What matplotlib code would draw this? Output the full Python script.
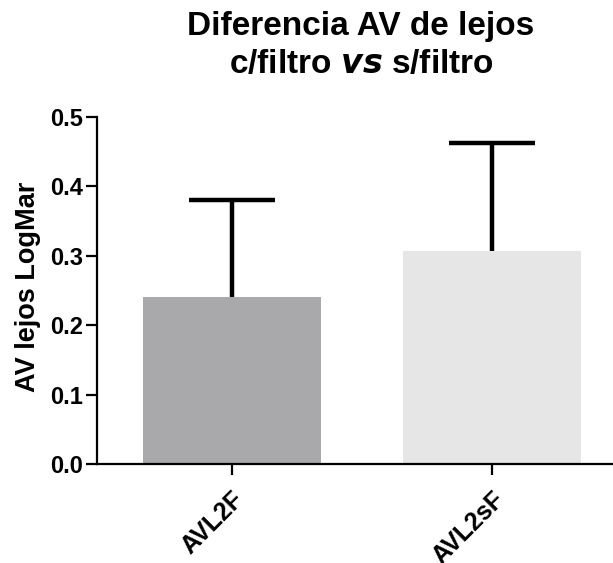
"""Bar chart: distance visual acuity (LogMAR) with vs without filter, mean + SD."""
import matplotlib

matplotlib.use("Agg")
import matplotlib.pyplot as plt

plt.rcParams["font.family"] = ["Liberation Sans", "DejaVu Sans"]
plt.rcParams["font.weight"] = "bold"

groups = ["AVL2F", "AVL2sF"]
means = [0.24, 0.307]
sds = [0.14, 0.155]
bar_colors = ["#a9a9ac", "#e6e6e6"]

fig = plt.figure(figsize=(6.13, 5.63), dpi=100)
ax = fig.add_axes([0.158, 0.176, 0.842, 0.616])

x = list(range(len(groups)))
ax.bar(x, means, width=0.685, color=bar_colors, zorder=2)

# upper-only SD whiskers with a cap
tops = [m + s for m, s in zip(means, sds)]
cap_half = 0.165
ax.vlines(x, means, tops, color="black", linewidth=3.2, zorder=3)
ax.hlines(tops, [xi - cap_half for xi in x], [xi + cap_half for xi in x],
          color="black", linewidth=3.2, zorder=3)

ax.set_xlim(-0.519, 1.465)
ax.set_ylim(0, 0.5)
ax.set_yticks([0.0, 0.1, 0.2, 0.3, 0.4, 0.5])
ax.set_yticklabels([f"{v:.1f}" for v in ax.get_yticks()], fontsize=17, fontweight="bold")
ax.set_xticks(x)
ax.set_xticklabels(groups, fontsize=18, fontweight="bold",
                   rotation=45, ha="right", rotation_mode="anchor")
ax.set_ylabel("AV lejos LogMar", fontsize=19.5, fontweight="bold")
ax.yaxis.set_label_coords(-0.108, 0.51)

for side in ("top", "right"):
    ax.spines[side].set_visible(False)
for side in ("left", "bottom"):
    ax.spines[side].set_linewidth(1.6)
ax.tick_params(axis="both", width=1.6, length=8, color="black")
ax.tick_params(axis="y", pad=2)
ax.tick_params(axis="x", pad=9)

fig.text(0.589, 0.938, "Diferencia AV de lejos", ha="center", va="baseline",
         fontsize=24, fontweight="bold")
fig.text(0.589, 0.870, r"c/filtro $\bf{\it{vs}}$ s/filtro", ha="center", va="baseline",
         fontsize=24, fontweight="bold")

fig.savefig("out.png", dpi=100, facecolor="white")
